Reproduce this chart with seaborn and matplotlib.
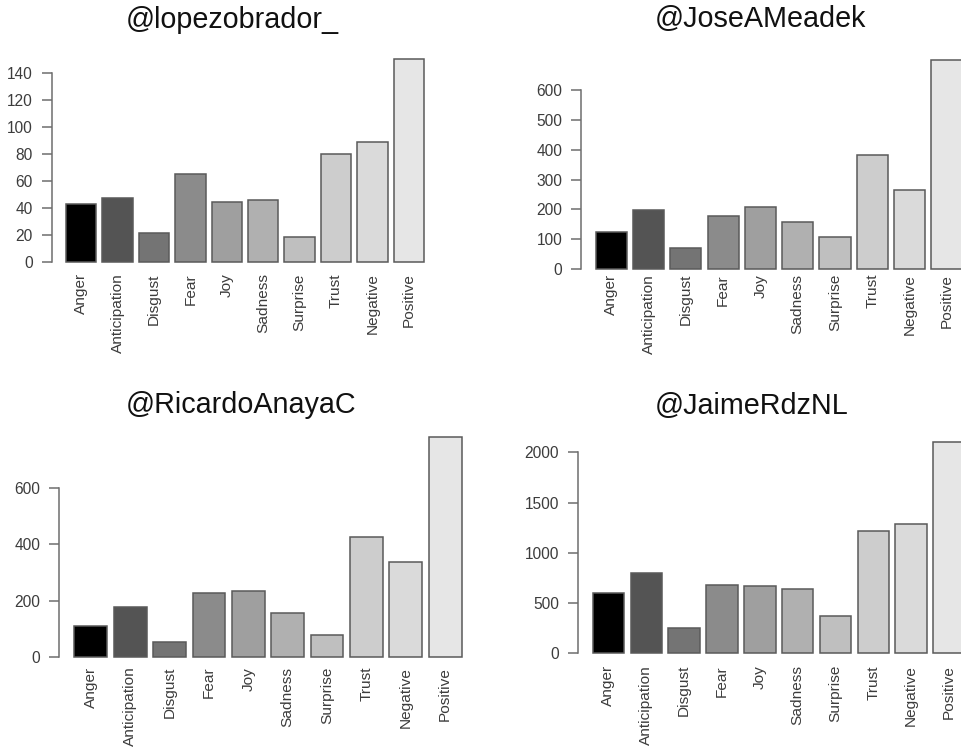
import matplotlib
matplotlib.use("Agg")
import matplotlib.pyplot as plt
import seaborn as sns
import pandas as pd

# ---- data ----
categories = ["Anger", "Anticipation", "Disgust", "Fear", "Joy",
              "Sadness", "Surprise", "Trust", "Negative", "Positive"]
titles = ["@lopezobrador_", "@JoseAMeadek", "@RicardoAnayaC", "@JaimeRdzNL"]
lopezobrador = [43, 47, 21, 65, 44, 46, 18, 80, 89, 150]
joseameadek = [123, 198, 69, 179, 207, 159, 106, 383, 265, 701]
ricardoanaya = [112, 178, 55, 228, 234, 156, 78, 425, 336, 779]
jaimerdz = [595, 800, 252, 675, 668, 635, 366, 1219, 1286, 2106]
series = [lopezobrador, joseameadek, ricardoanaya, jaimerdz]
yticks = [list(range(0, 141, 20)), list(range(0, 601, 100)),
          [0, 200, 400, 600], list(range(0, 2001, 500))]

# ---- style ----
greys = ["#000000", "#545454", "#747474", "#8b8b8b", "#9f9f9f",
         "#b0b0b0", "#bfbfbf", "#cdcdcd", "#dadada", "#e6e6e6"]

sns.set_theme(style="white")
plt.rcParams["font.family"] = ["Liberation Sans", "DejaVu Sans"]

W, H = 962, 749
fig = plt.figure(figsize=(W / 100, H / 100), dpi=100)

# layout in pixels (from top-left)
layout = [
    dict(ax_left=51.7, step=36.4, y0=261.7, ppu=1.349, top=45, lab_top=273.3,
         tx=232.5, tb=28.3),
    dict(ax_left=581.0, step=37.3, y0=269.0, ppu=0.2981, top=45, lab_top=274.0,
         tx=760.8, tb=27.3),
    dict(ax_left=58.9, step=39.38, y0=657.3, ppu=0.2828, top=425, lab_top=666.7,
         tx=240.8, tb=413.3),
    dict(ax_left=577.8, step=37.84, y0=653.0, ppu=0.10033, top=425, lab_top=665.0,
         tx=751.5, tb=414.0),
]

axis_col = "#6e6e6e"
text_col = "#3c3c3c"

for vals, title, ticks, L in zip(series, titles, yticks, layout):
    xlo, xhi = -0.81, 9.81
    width_px = (xhi - xlo) * L["step"]
    bottom_px = L["y0"] + 4
    height_px = bottom_px - L["top"]
    ax = fig.add_axes([L["ax_left"] / W, 1 - bottom_px / H,
                       width_px / W, height_px / H])
    df = pd.DataFrame({"category": categories, "value": vals})
    sns.barplot(data=df, x="category", y="value", hue="category",
                palette=greys, legend=False, width=0.833,
                edgecolor="#5a5a5a", linewidth=1.1, ax=ax)
    ax.set_xlim(xlo, xhi)
    ax.set_ylim(-4 / L["ppu"], (L["y0"] - L["top"]) / L["ppu"])
    ax.set_xlabel("")
    ax.set_ylabel("")
    for s in ["top", "right", "bottom"]:
        ax.spines[s].set_visible(False)
    ax.spines["left"].set_color(axis_col)
    ax.spines["left"].set_linewidth(1.1)
    ax.spines["left"].set_bounds(ticks[0], ticks[-1])
    ax.set_yticks(ticks)
    ax.set_yticklabels([str(t) for t in ticks])
    ax.tick_params(axis="y", length=7.5, width=1.1, color=axis_col,
                   pad=6, labelsize=11.2, labelcolor=text_col, left=True)
    pad_pt = (L["lab_top"] - bottom_px) * 0.72
    ax.set_xticks(range(len(categories)))
    ax.set_xticklabels(categories, rotation=90)
    ax.tick_params(axis="x", length=0, pad=pad_pt, labelsize=11.1,
                   labelcolor=text_col)
    ax.grid(False)
    ax.set_facecolor("none")
    fig.text(L["tx"] / W, 1 - L["tb"] / H, title, ha="center", va="baseline",
             fontsize=20.7, color="#111111")

fig.savefig("out.png", dpi=100, facecolor="white")
